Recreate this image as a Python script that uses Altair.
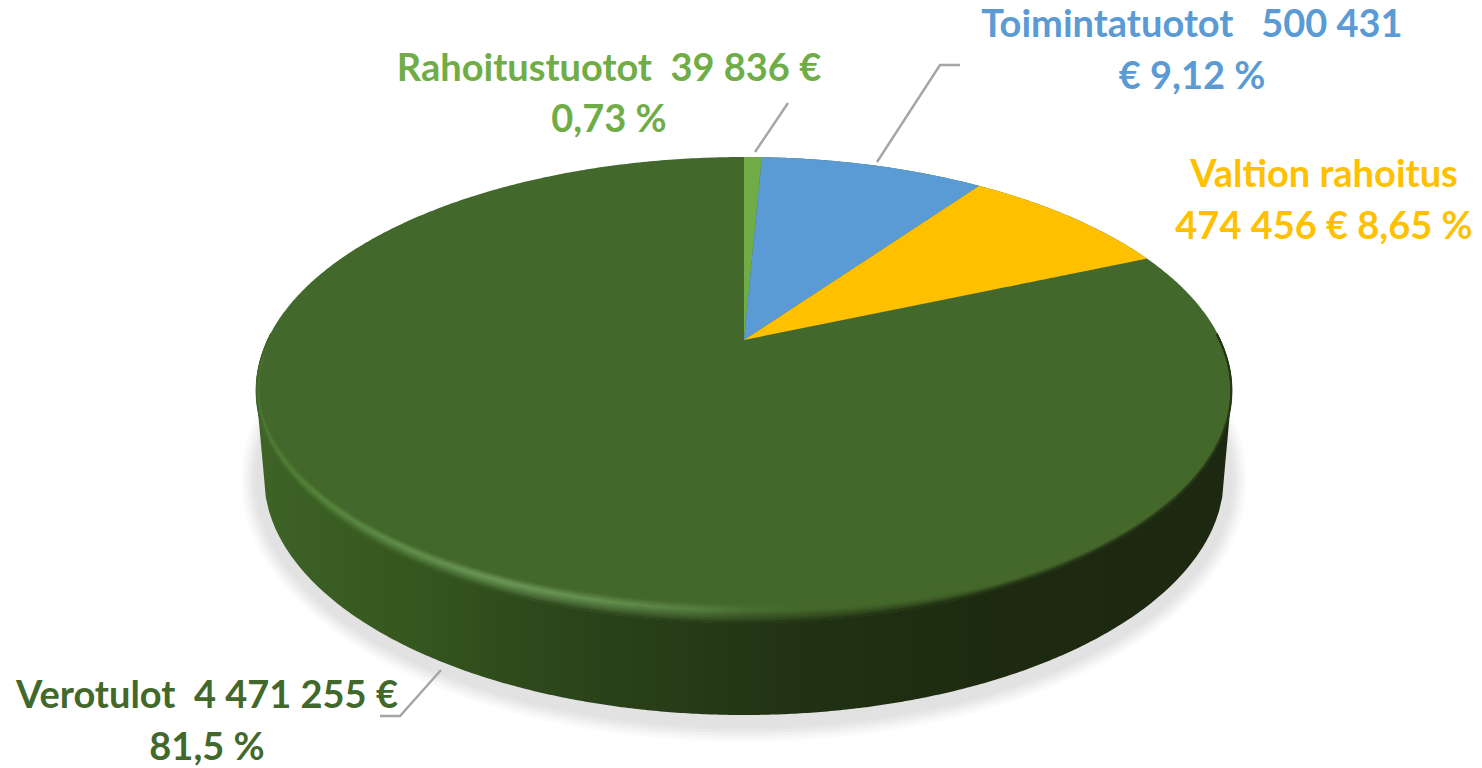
import numpy as np
import pandas as pd
import altair as alt

# ---- data ----
names = ["Rahoitustuotot", "Toimintatuotot", "Valtion rahoitus", "Verotulot"]
values = [39836, 500431, 474456, 4471255]
colors = ["#70AD47", "#5B9BD5", "#FFC000", "#43682B"]
label_lines = [
    ["Rahoitustuotot  39 836 €", "0,73 %"],
    ["Toimintatuotot   500 431", "€ 9,12 %"],
    ["Valtion rahoitus", "474 456 € 8,65 %"],
    ["Verotulot  4 471 255 €", "81,5 %"],
]

# ---- layout (image pixels) ----
W, H = 1466, 758
xs = alt.Scale(domain=[8, 8 + W], nice=False, zero=False)
ys = alt.Scale(domain=[8 + H, 8], nice=False, zero=False)
X = lambda f="x": alt.X(f"{f}:Q", scale=xs, axis=None)
Y = lambda f="y": alt.Y(f"{f}:Q", scale=ys, axis=None)
Y2 = lambda f="y2": alt.Y2(f"{f}:Q")

CX, CY, RX, RY = 744.0, 390.0, 488.0, 233.0   # top-face ellipse
AX, AY = 744.0, 340.0                          # pie apex (perspective)
K = 0.2146; A = 222.3; B = 476.6               # perspective of the tilted disc
BCY, BRX, BRY = 477.0, 480.0, 238.0            # bottom edge of the wall


def rim(theta):
    d = 1 + K * np.cos(theta)
    return AX + B * np.sin(theta) / d, AY - A * np.cos(theta) / d


def ellipse_band(cx, cy, rx, ry, n=240):
    x = cx + rx * np.cos(np.linspace(np.pi, 0, n))
    s = np.sqrt(np.clip(1 - ((x - cx) / rx) ** 2, 0, 1))
    return x, cy - ry * s, cy + ry * s


def hexmix(a, b, t):
    ca = np.array([int(a[i:i + 2], 16) for i in (1, 3, 5)], float)
    cb = np.array([int(b[i:i + 2], 16) for i in (1, 3, 5)], float)
    c = ca + (cb - ca) * t
    return "#%02x%02x%02x" % tuple(int(round(v)) for v in c)


layers = []

# soft shadow below the disc
shadow_steps = [(503, 262, "#fbfbfb"), (500, 259, "#f6f6f6"), (497, 256, "#f0f0f0"),
                (494, 253, "#eaeaea"), (491, 250, "#e5e5e5"), (488, 248, "#e2e2e2")]
for rx_, ry_, col in shadow_steps:
    x, y1, y2 = ellipse_band(CX, 480, rx_, ry_)
    layers.append(alt.Chart(pd.DataFrame({"x": x, "y": y1, "y2": y2}))
                  .mark_area(color=col).encode(x=X(), y=Y(), y2=Y2()))

# wall
wall_x = [256, 300, 400, 500, 600, 700, 800, 900, 1000, 1232]
wall_c = ["#3f6427", "#3b5f24", "#365820", "#2f4d1c", "#2a4219", "#263a17",
          "#213213", "#1f2e11", "#1d2a10", "#1c2810"]
hi_x = [256, 300, 400, 500, 600, 700, 760, 800, 1232]
hi_c = ["#4b7a33", "#528339", "#608f4a", "#6c9858", "#659150", "#567f3e",
        "#466b2d", "#44672a", "#44672a"]
FACE = colors[3]


def pick(px, pc, x):
    x = np.clip(x, px[0], px[-1])
    i = min(np.searchsorted(px, x, side="right") - 1, len(px) - 2)
    t = (x - px[i]) / (px[i + 1] - px[i])
    return hexmix(pc[i], pc[i + 1], t)


wx = np.linspace(CX - RX, CX + RX, 300)
top = CY + RY * np.sqrt(np.clip(1 - ((wx - CX) / RX) ** 2, 0, 1))
bot = np.where(np.abs(wx - CX) <= BRX,
               BCY + BRY * np.sqrt(np.clip(1 - ((wx - CX) / BRX) ** 2, 0, 1)),
               CY + (BCY - CY) * (RX - np.abs(wx - CX)) / (RX - BRX))
grad = alt.Gradient(gradient="linear", x1=0, x2=1, y1=0, y2=0,
                    stops=[alt.GradientStop(offset=(p - 256) / 976, color=c)
                           for p, c in zip(wall_x, wall_c)])
layers.append(alt.Chart(pd.DataFrame({"x": wx, "y": top, "y2": bot}))
              .mark_area(color=grad).encode(x=X(), y=Y(), y2=Y2()))

# top face: the largest slice is the whole disc, the others lie on it
x, y1, y2 = ellipse_band(CX, CY, RX, RY, 400)
layers.append(alt.Chart(pd.DataFrame({"x": x, "y": y1, "y2": y2}))
              .mark_area(color=FACE).encode(x=X(), y=Y(), y2=Y2()))

total = sum(values)
start = 0.0
for name, val, col in zip(names[:3], values[:3], colors[:3]):
    t0 = start / total * 2 * np.pi
    start += val
    t1 = start / total * 2 * np.pi
    ax_, ay_ = rim(np.linspace(t0, t1, 80))
    grid = np.unique(np.concatenate([[AX], ax_]))
    x0, y0 = ax_[0], ay_[0]
    xe, ye = ax_[-1], ay_[-1]
    if x0 - AX < 1e-6:
        up = np.interp(grid, ax_, ay_)
    else:
        up = np.where(grid <= x0, AY + (y0 - AY) * (grid - AX) / (x0 - AX),
                      np.interp(grid, ax_, ay_))
    low = AY + (ye - AY) * (grid - AX) / (xe - AX)
    layers.append(alt.Chart(pd.DataFrame({"x": grid, "y": up, "y2": low}))
                  .mark_area(color=col).encode(x=X(), y=Y(), y2=Y2()))

# bevel between face and wall
stop_x = [256, 280, 320, 400, 500, 600, 700, 744, 800, 900, 1000, 1100, 1232]
w_x = [256, 320, 744, 900, 1000, 1232]
w_v = [6.0, 11.0, 13.0, 9.0, 6.0, 4.0]
phi_deg = np.linspace(-14, 194, 360)
phi = np.radians(phi_deg)
taper = np.clip(np.minimum(phi_deg + 14, 194 - phi_deg) / 30.0, 0, 1)
inset = 1.0 - taper
for o in np.arange(20, -0.1, -1.5):
    rx_o, ry_o = RX - inset - 0.4 * o * taper, RY - inset - o * taper
    px = CX + rx_o * np.cos(phi)
    py = CY + ry_o * np.sin(phi)
    x_min, x_max = px.min(), px.max()
    stops = []
    for sx in stop_x:
        w = float(np.interp(sx, w_x, w_v))
        wc, hc = pick(wall_x, wall_c, sx), pick(hi_x, hi_c, sx)
        if o <= w:
            c = hexmix(wc, hc, (o / w) ** 0.8)
        else:
            c = hexmix(hc, "#44672a", min(1.0, (o - w) / 7.0))
        stops.append(alt.GradientStop(
            offset=float(np.clip((sx - x_min) / (x_max - x_min), 0, 1)), color=c))
    g = alt.Gradient(gradient="linear", x1=0, x2=1, y1=0, y2=0, stops=stops)
    layers.append(alt.Chart(pd.DataFrame({"x": px, "y": py, "i": np.arange(len(px))}))
                  .mark_line(stroke=g, strokeWidth=2.0)
                  .encode(x=X(), y=Y(), order=alt.Order("i:Q")))

# leader lines
leaders = [([755, 788], [152, 103]),
           ([877, 940, 960], [162, 65, 65]),
           ([441, 400, 380], [670, 716, 716])]
for lx, ly in leaders:
    layers.append(alt.Chart(pd.DataFrame({"x": lx, "y": ly, "i": range(len(lx))}))
                  .mark_line(color="#A5A5A5", strokeWidth=2.4)
                  .encode(x=X(), y=Y(), order=alt.Order("i:Q")))

# labels
label_pos = [((609, 81), (609, 132)),
             ((1192, 37), (1192, 89)),
             ((1324, 187), (1324, 239)),
             ((207, 708), (207, 760))]
rows = []
for lines, pos, col in zip(label_lines, label_pos, colors):
    for text, (px_, py_) in zip(lines, pos):
        rows.append({"x": px_, "y": py_, "t": text.replace("  ", "\u00a0\u00a0"), "c": col})
labels = pd.DataFrame(rows)
layers.append(alt.Chart(labels)
              .mark_text(font="Lato", fontWeight="bold", fontSize=38,
                         align="center", baseline="alphabetic")
              .encode(x=X(), y=Y(), text="t:N",
                      color=alt.Color("c:N", scale=None, legend=None)))

chart = (alt.layer(*layers)
         .properties(width=W, height=H, padding=0,
                     view=alt.ViewConfig(stroke="transparent", fill="transparent"),
                     autosize=alt.AutoSizeParams(type="none"))
         .configure_view(stroke="transparent", strokeWidth=0)
         .configure_axis(domain=False, grid=False)
         .configure(background="white"))
chart.save("out.html", embed_options={"renderer": "svg", "actions": False})
